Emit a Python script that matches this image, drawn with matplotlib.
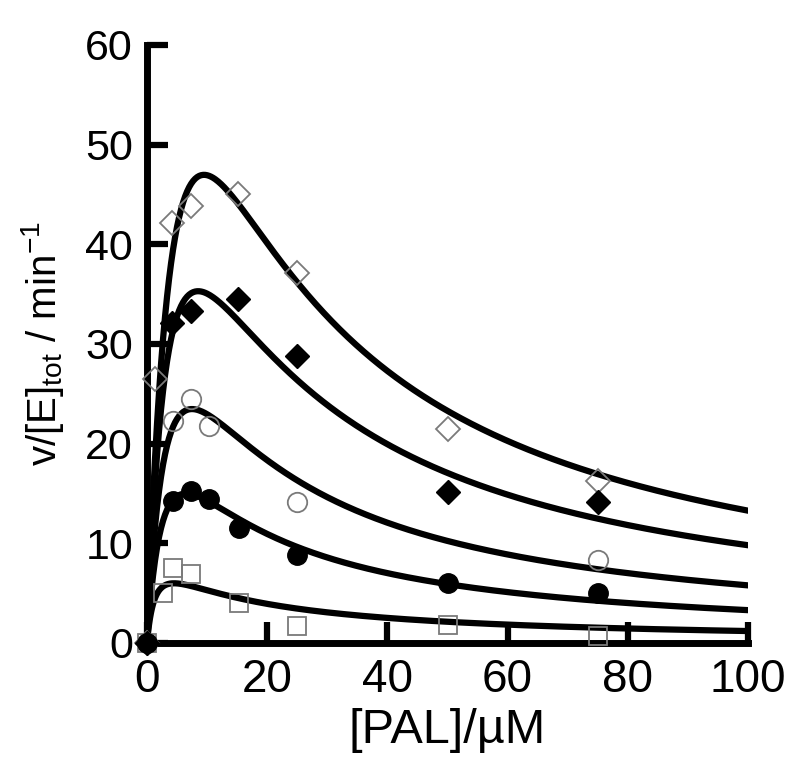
import numpy as np
import matplotlib
matplotlib.use('Agg')
import matplotlib.pyplot as plt

plt.rcParams['font.family'] = ['Liberation Sans', 'DejaVu Sans']
plt.rcParams['mathtext.fontset'] = 'custom'
plt.rcParams['mathtext.rm'] = 'Liberation Sans'
plt.rcParams['mathtext.it'] = 'Liberation Sans:italic'

x_open_dia = [0, 1.4, 4.2, 7.4, 15.2, 25, 50, 75]
y_open_dia = [0, 26.5, 42.1, 43.8, 45.0, 37.1, 21.5, 16.3]

x_fill_dia = [0, 4.2, 7.3, 15.2, 25, 50, 75]
y_fill_dia = [0, 32.1, 33.3, 34.5, 28.8, 15.1, 14.1]

x_open_cir = [0, 4.3, 7.3, 10.3, 25, 75]
y_open_cir = [0, 22.3, 24.5, 21.8, 14.1, 8.3]

x_fill_cir = [0, 4.3, 7.4, 10.3, 15.3, 25, 50, 75]
y_fill_cir = [0, 14.2, 15.2, 14.4, 11.5, 8.8, 6.0, 5.0]

x_open_sq = [0, 2.7, 4.3, 7.4, 15.3, 25, 50, 75]
y_open_sq = [0, 5.0, 7.5, 6.9, 4.0, 1.7, 1.8, 0.7]

# substrate-inhibition fit parameters (Vmax, Km, Ki) for each curve
vmax = [114.0, 74.8, 50.5, 31.7, 9.9]
km = [6.77, 4.76, 4.31, 3.62, 1.47]
ki = [13.3, 15.2, 13.0, 11.65, 13.8]

fig = plt.figure(figsize=(8, 7.64), dpi=100)
ax = fig.add_axes([0.18375, 0.1584, 0.75125, 0.7827])

s = np.linspace(0, 100, 600)
for V, K, I in zip(vmax, km, ki):
    ax.plot(s, V * s / (K + s + s ** 2 / I), color='black', lw=4.5, zorder=2)

grey = '#7a7a7a'
ax.plot(x_open_sq, y_open_sq, ls='none', marker='s', ms=13, mfc='none',
        mec=grey, mew=1.3, clip_on=False, zorder=3)
ax.plot(x_open_dia, y_open_dia, ls='none', marker='D', ms=12, mfc='none',
        mec=grey, mew=1.3, clip_on=False, zorder=3)
ax.plot(x_open_cir, y_open_cir, ls='none', marker='o', ms=14, mfc='none',
        mec=grey, mew=1.3, clip_on=False, zorder=3)
ax.plot(x_fill_dia, y_fill_dia, ls='none', marker='D', ms=12, mfc='black',
        mec='black', clip_on=False, zorder=4)
ax.plot(x_fill_cir, y_fill_cir, ls='none', marker='o', ms=14, mfc='black',
        mec='black', clip_on=False, zorder=4)

ax.set_xlim(0, 100)
ax.set_ylim(0, 60)
ax.set_xticks([0, 20, 40, 60, 80, 100])
ax.set_yticks([0, 10, 20, 30, 40, 50, 60])

for side in ['top', 'right']:
    ax.spines[side].set_visible(False)
for side in ['left', 'bottom']:
    ax.spines[side].set_linewidth(5)
    ax.spines[side].set_capstyle('projecting')

ax.tick_params(axis='both', direction='in', length=15, width=4.5)
ax.tick_params(axis='x', labelsize=33, pad=11)
ax.tick_params(axis='y', labelsize=31, pad=10)

ax.set_xlabel('[PAL]/\u00b5M', fontsize=35, labelpad=4)
ax.set_ylabel(r'v/[E]$_{\mathrm{tot}}$ / min$^{-1}$', fontsize=29, labelpad=14)

plt.savefig('out.png', dpi=100)
